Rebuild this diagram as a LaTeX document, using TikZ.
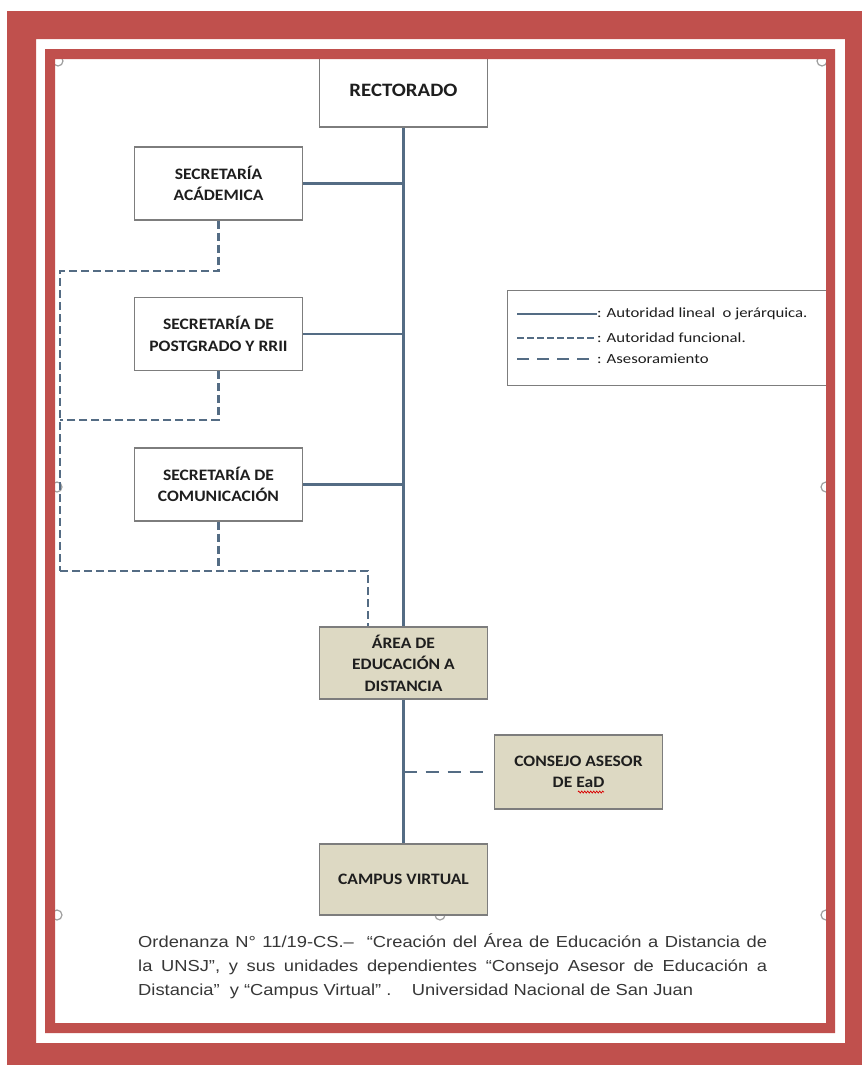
\documentclass[tikz,border=0pt]{standalone}
\usepackage{fontspec}
\setmainfont{Liberation Sans}
\newfontfamily\boxfam{Carlito}[FakeStretch=1.1]
\newfontfamily\legfam{Carlito}[FakeStretch=1.2]
\newfontfamily\capfam{Liberation Sans}[FakeStretch=1.15]
\usetikzlibrary{decorations.pathmorphing}

\definecolor{framered}{HTML}{C0504D}
\definecolor{linkblue}{RGB}{84,108,132}
\definecolor{boxgrey}{RGB}{125,125,125}
\definecolor{boxtan}{HTML}{DDD9C3}
\definecolor{textdark}{RGB}{30,30,30}
\definecolor{captiongrey}{RGB}{55,55,55}

\tikzset{
  orgbox/.style={draw=boxgrey, line width=1.3bp, fill=white,
    minimum width=168bp, minimum height=73bp, inner sep=0pt,
    align=center, text=textdark,
    font=\boxfam\bfseries\fontsize{16}{21.5}\selectfont},
  tanbox/.style={orgbox, fill=boxtan},
  lineal/.style={draw=linkblue, line width=2.8bp},
  funcional/.style={draw=linkblue, line width=2.4bp, dash pattern=on 8bp off 4bp},
  asesor/.style={draw=linkblue, line width=2.6bp, dash pattern=on 13bp off 9bp},
  handle/.style={draw=gray!75, line width=1.2bp, fill=white},
  legendtext/.style={anchor=west, inner sep=0pt, text=textdark,
    font=\legfam\fontsize{14}{16}\selectfont},
  captionline/.style={anchor=west, inner sep=0pt, text=captiongrey,
    font=\capfam\fontsize{16}{18}\selectfont},
}

\begin{document}
\begin{tikzpicture}[x=1bp, y=-1bp]
\useasboundingbox (0,0) rectangle (862,1065);
\fill[white] (0,0) rectangle (862,1065);

% selection handles of the embedded chart
\foreach \hx/\hy in {58/61, 440/58, 822/61, 57/487, 826/487, 57/915, 440/915, 826/915}
  \draw[handle] (\hx,\hy) circle (5bp);

% boxes
\node[orgbox, minimum height=74bp,
  font=\boxfam\bfseries\fontsize{19}{22}\selectfont] (rect) at (403.5,90) {RECTORADO};
\node[orgbox] (acad) at (218.5,183.5) {SECRETARÍA\\ACÁDEMICA};
\node[orgbox] (posg) at (218.5,334) {SECRETARÍA DE\\POSTGRADO Y RRII};
\node[orgbox] (comu) at (218.5,484.5) {SECRETARÍA DE\\COMUNICACIÓN};
\node[tanbox, minimum height=72bp] (area) at (403.5,663) {ÁREA DE\\EDUCACIÓN A\\DISTANCIA};
\node[tanbox, minimum height=74bp] (cons) at (578.5,772) {CONSEJO ASESOR\\DE EaD};
\node[tanbox, minimum height=71bp] (camp) at (403.5,879.5) {CAMPUS VIRTUAL};

% spell-check underline under "EaD"
\coordinate (sqA) at (578,792);
\coordinate (sqB) at (604,792);
\draw[red!85!black, line width=0.7bp, decorate,
  decoration={zigzag, segment length=3bp, amplitude=1bp}] (sqA) -- (sqB);

% line authority: trunk and branches
\draw[lineal] (rect.south) -- (area.north);
\draw[lineal] (acad.east) -- (acad.east -| rect.south);
\draw[lineal] (posg.east) -- (posg.east -| rect.south);
\draw[lineal] (comu.east) -- (comu.east -| rect.south);
\draw[lineal] (area.south) -- (camp.north);

% functional authority
\coordinate (fA) at (60,271);
\coordinate (fB) at (60,420);
\coordinate (busL) at (60,571);
\coordinate (busR) at (368,571);
\draw[funcional] (acad.south) |- (fA) -- (busL);
\draw[funcional] (posg.south) |- (fB);
\draw[funcional] (comu.south) -- (comu.south |- busL);
\draw[funcional] (busL) -- (busR) -- (busR |- area.north);

% advisory link
\draw[asesor, shorten >=8bp] (cons.west -| area.south) -- (cons.west);

% legend
\node[draw=boxgrey, line width=1.2bp, fill=white, minimum width=325bp,
  minimum height=95bp, anchor=north west, inner sep=0pt] (leg) at (507,290) {};
\coordinate (l1a) at (517,314); \coordinate (l1b) at (597,314);
\coordinate (l2a) at (517,338); \coordinate (l2b) at (597,338);
\coordinate (l3a) at (517,359); \coordinate (l3b) at (597,359);
\draw[draw=linkblue, line width=2.4bp] (l1a) -- (l1b);
\draw[draw=linkblue, line width=2.2bp, dash pattern=on 7bp off 3bp] (l2a) -- (l2b);
\draw[draw=linkblue, line width=2.4bp, dash pattern=on 12bp off 8bp] (l3a) -- (l3b);
\node[legendtext] (t1) at (l1b) {: Autoridad lineal\ \ o jerárquica.};
\node[legendtext] (t2) at (l2b) {: Autoridad funcional.};
\node[legendtext] (t3) at (l3b) {: Asesoramiento};

% caption
\node[captionline] (c1) at (138,941) {\makebox[629bp][s]{Ordenanza N° 11/19-CS.–\ \ “Creación del Área de Educación a Distancia de}};
\node[captionline] (c2) at (138,967) {\makebox[629bp][s]{la UNSJ”, y sus unidades dependientes “Consejo Asesor de Educación a}};
\node[captionline] (c3) at (138,991) {Distancia”\ \ y “Campus Virtual” .\ \ \ \ Universidad Nacional de San Juan};

% double red frame
\fill[framered, even odd rule] (45,49) rectangle (835,1033) (55,59) rectangle (826,1023);
\fill[framered, even odd rule] (7,11) rectangle (862,1065) (36,39) rectangle (845,1043);
\end{tikzpicture}
\end{document}
